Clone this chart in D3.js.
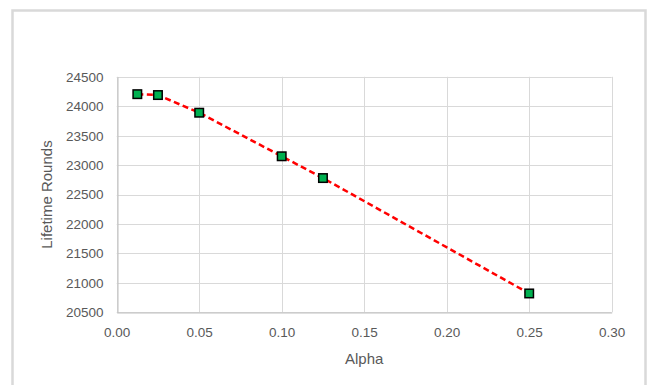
<!DOCTYPE html>
<html>
<head>
<meta charset="utf-8">
<script src="https://cdn.jsdelivr.net/npm/d3@7/dist/d3.min.js"></script>
<style>
  html, body { margin: 0; padding: 0; background: #fff; }
  svg { display: block; }
  text { font-family: "Liberation Sans", Arial, sans-serif; fill: #595959; }
</style>
</head>
<body>
<svg id="chart" width="650" height="385"></svg>
<script>
// Alpha values and the lifetime rounds measured at each
const alphaValues = [0.0125, 0.025, 0.05, 0.10, 0.125, 0.25];
const lifetimeRounds = [24205, 24190, 23890, 23150, 22780, 20820];

const xTicks = [0, 0.05, 0.10, 0.15, 0.20, 0.25, 0.30];
const yTicks = [20500, 21000, 21500, 22000, 22500, 23000, 23500, 24000, 24500];

const xTitle = "Alpha";
const yTitle = "Lifetime Rounds";

const plot = { left: 116.7, right: 611.7, top: 76.8, bottom: 312.3 };

const svg = d3.select("#chart");

// Chart frame
svg.append("rect")
  .attr("x", 12.5).attr("y", 10.5)
  .attr("width", 633).attr("height", 390)
  .attr("fill", "#fff")
  .attr("stroke", "#d9d9d9")
  .attr("stroke-width", 2.5);

const x = d3.scaleLinear().domain([0, 0.30]).range([plot.left, plot.right]);
const y = d3.scaleLinear().domain([20500, 24500]).range([plot.bottom, plot.top]);

// Gridlines
const grid = svg.append("g");
grid.selectAll("line.h").data(yTicks).join("line")
  .attr("x1", plot.left).attr("x2", plot.right)
  .attr("y1", d => Math.round(y(d)) + 0.5).attr("y2", d => Math.round(y(d)) + 0.5)
  .attr("stroke", "#d9d9d9").attr("stroke-width", 1);
grid.selectAll("line.v").data(xTicks).join("line")
  .attr("y1", plot.top).attr("y2", plot.bottom)
  .attr("x1", d => Math.round(x(d)) + 0.5).attr("x2", d => Math.round(x(d)) + 0.5)
  .attr("stroke", "#d9d9d9").attr("stroke-width", 1);

// Axes
const xAxis = d3.axisBottom(x).tickValues(xTicks).tickFormat(d3.format(".2f")).tickSize(0).tickPadding(15);
const yAxis = d3.axisLeft(y).tickValues(yTicks).tickFormat(d3.format("d")).tickSize(0).tickPadding(14);

const gx = svg.append("g").attr("transform", `translate(0,${Math.round(plot.bottom) + 0.5})`).call(xAxis);
const gy = svg.append("g").attr("transform", `translate(${Math.round(plot.left) + 0.5},0)`).call(yAxis);
[gx, gy].forEach(g => {
  g.select(".domain").attr("stroke", "#bfbfbf");
  g.selectAll("text").attr("font-size", 13.5).attr("fill", "#595959")
    .attr("font-family", "'Liberation Sans', Arial, sans-serif");
});

// Axis titles
svg.append("text")
  .attr("x", (plot.left + plot.right) / 2).attr("y", 364)
  .attr("text-anchor", "middle").attr("font-size", 15)
  .text(xTitle);
svg.append("text")
  .attr("transform", `translate(52,${(plot.top + plot.bottom) / 2}) rotate(-90)`)
  .attr("text-anchor", "middle").attr("font-size", 15)
  .text(yTitle);

// Series line
const pts = alphaValues.map((a, i) => [a, lifetimeRounds[i]]);
svg.append("path")
  .datum(pts)
  .attr("d", d3.line().x(d => x(d[0])).y(d => y(d[1])))
  .attr("fill", "none")
  .attr("stroke", "#ff0000")
  .attr("stroke-width", 2.5)
  .attr("stroke-dasharray", "6,3.5");

// Markers
const m = 8.5;
svg.selectAll("rect.marker").data(pts).join("rect")
  .attr("class", "marker")
  .attr("x", d => x(d[0]) - m / 2).attr("y", d => y(d[1]) - m / 2)
  .attr("width", m).attr("height", m)
  .attr("fill", "#00b050")
  .attr("stroke", "#000")
  .attr("stroke-width", 1.5);
</script>
</body>
</html>
